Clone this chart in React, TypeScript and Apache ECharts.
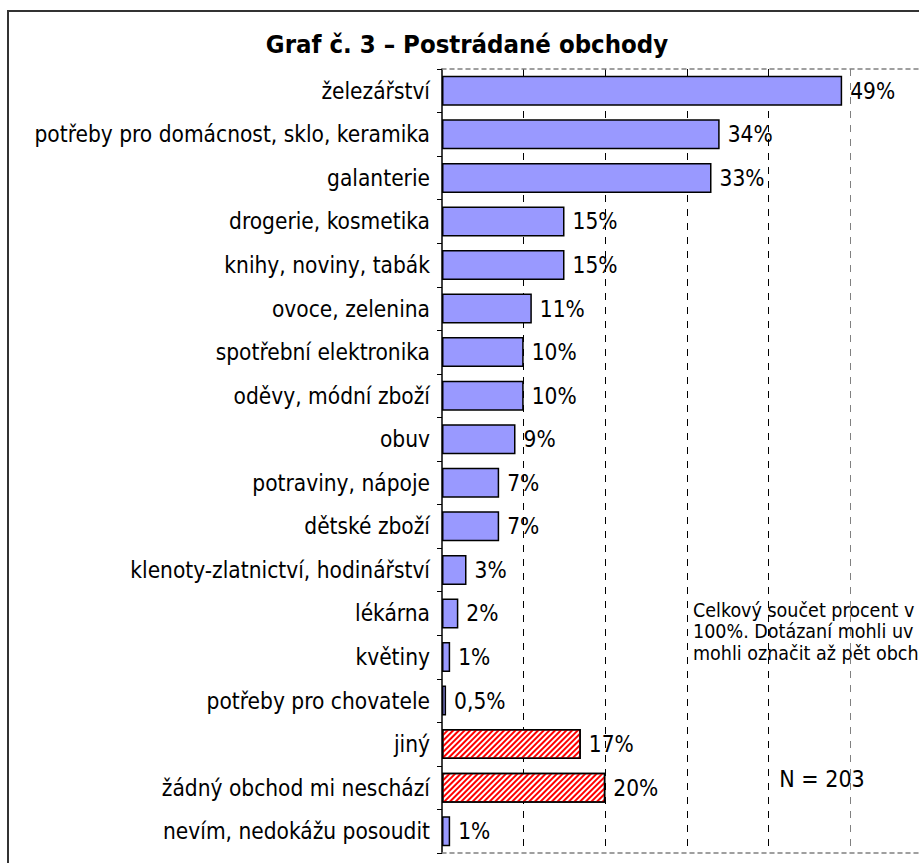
import React, { useEffect, useRef } from "react";
import * as echarts from "echarts";

const categories = [
  "železářství",
  "potřeby pro domácnost, sklo, keramika",
  "galanterie",
  "drogerie, kosmetika",
  "knihy, noviny, tabák",
  "ovoce, zelenina",
  "spotřební elektronika",
  "oděvy, módní zboží",
  "obuv",
  "potraviny, nápoje",
  "dětské zboží",
  "klenoty-zlatnictví, hodinářství",
  "lékárna",
  "květiny",
  "potřeby pro chovatele",
  "jiný",
  "žádný obchod mi neschází",
  "nevím, nedokážu posoudit",
];
const values = [49, 34, 33, 15, 15, 11, 10, 10, 9, 7, 7, 3, 2, 1, 0.5, 17, 20, 1];
const hatched = [false, false, false, false, false, false, false, false, false, false, false, false, false, false, false, true, true, false];
const xTicks = [0, 10, 20, 30, 40, 50, 60];
const titleText = "Graf č. 3 – Postrádané obchody";
const noteLines = ["Celkový součet procent v", "100%. Dotázaní mohli uv", "mohli označit až pět obch"];
const nText = "N = 203";

const FONT = "'DejaVu Sans Condensed', 'DejaVu Sans', sans-serif";

export default function App() {
  const ref = useRef<HTMLDivElement>(null);
  useEffect(() => {
    if (!ref.current) return;
    const chart = echarts.init(ref.current, null, { renderer: "svg" });
    const data = values.map((v, i) =>
      hatched[i]
        ? {
            value: v,
            itemStyle: {
              color: "#ffffff",
              decal: {
                symbol: "rect",
                symbolSize: 1,
                color: "#ff0000",
                dashArrayX: [1, 0],
                dashArrayY: [2, 1.5],
                rotation: -Math.PI / 4,
              },
            },
          }
        : { value: v }
    );
    const gridColors = xTicks.map((t) => (t === 0 ? "transparent" : t >= 50 ? "#808080" : "#000000"));
    chart.setOption({
      animation: false,
      textStyle: { fontFamily: FONT },
      grid: { left: 442, top: 69, width: 490, height: 784, containLabel: false },
      xAxis: [
        {
          type: "value",
          min: 0,
          max: 60,
          interval: 10,
          position: "bottom",
          axisLabel: { show: false },
          axisTick: { show: false },
          axisLine: { show: true, lineStyle: { color: "#808080", width: 1.5, type: [4, 4] } },
          splitLine: { show: true, lineStyle: { color: gridColors, width: 1, type: [7, 7] } },
        },
        {
          type: "value",
          min: 0,
          max: 60,
          interval: 10,
          position: "top",
          axisLabel: { show: false },
          axisTick: { show: false },
          axisLine: { show: true, lineStyle: { color: "#808080", width: 1.5, type: [4, 4] } },
          splitLine: { show: false },
        },
      ],
      yAxis: {
        type: "category",
        inverse: true,
        data: categories,
        axisLine: { show: true, lineStyle: { color: "#000", width: 1.5 } },
        axisTick: { show: true, length: 5, alignWithLabel: false, lineStyle: { color: "#000" } },
        axisLabel: { color: "#000", fontSize: 22.5, margin: 12, fontFamily: FONT },
        splitLine: { show: false },
      },
      series: [
        {
          type: "bar",
          xAxisIndex: 0,
          data,
          barWidth: 30,
          itemStyle: { color: "#9999ff", borderColor: "#000", borderWidth: 1.5 },
          label: {
            show: true,
            position: "right",
            distance: 8,
            color: "#000",
            fontSize: 22.5,
            fontFamily: FONT,
            formatter: (p: any) => String(p.value).replace(".", ",") + "%",
          },
        },
      ],
      graphic: [
        {
          type: "rect",
          shape: { x: 8, y: 11, width: 1000, height: 1000 },
          style: { fill: "none", stroke: "#333", lineWidth: 2 },
          silent: true,
          z: 100,
        },
        {
          type: "text",
          x: 467,
          y: 44,
          style: {
            text: titleText,
            font: `bold 25.5px ${FONT}`,
            fill: "#000",
            align: "center",
            verticalAlign: "middle",
          },
        },
        ...noteLines.map((line, i) => ({
          type: "text",
          x: 693,
          y: 610 + i * 21.5,
          style: {
            text: line,
            font: `19.5px ${FONT}`,
            fill: "#000",
            align: "left",
            verticalAlign: "middle",
          },
        })),
        {
          type: "text",
          x: 822,
          y: 779,
          style: {
            text: nText,
            font: `23px ${FONT}`,
            fill: "#000",
            align: "center",
            verticalAlign: "middle",
          },
        },
      ],
    });
    return () => chart.dispose();
  }, []);
  return (
    <div style={{ position: "fixed", left: 0, top: 0, width: 919, height: 863, overflow: "hidden", background: "#fff" }}>
      <div ref={ref} style={{ position: "absolute", left: 0, top: 0, width: 960, height: 863 }} />
    </div>
  );
}
